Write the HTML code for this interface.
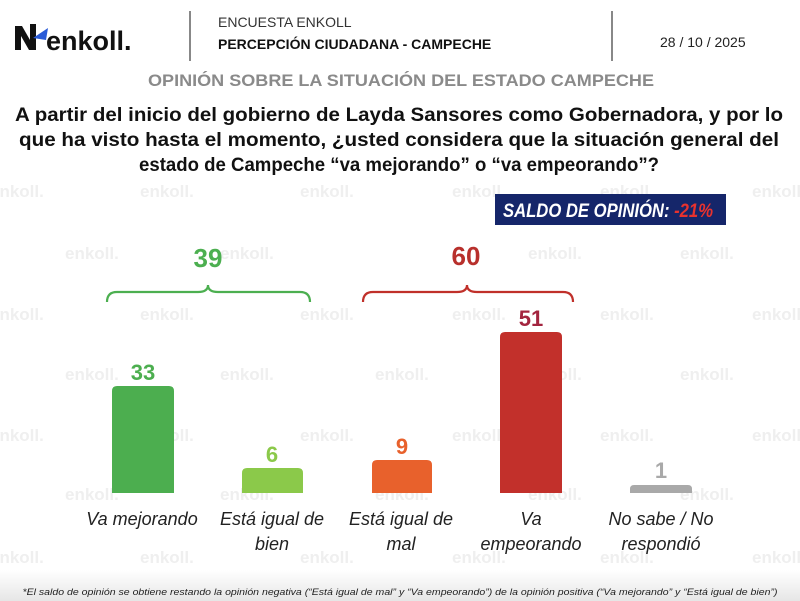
<!DOCTYPE html>
<html><head><meta charset="utf-8"><style>
html,body{margin:0;padding:0;background:#fff;}
svg{display:block;}
text{font-family:"Liberation Sans",sans-serif;}
</style></head><body>
<svg width="800" height="601" viewBox="0 0 800 601" xmlns="http://www.w3.org/2000/svg">
<defs>
<linearGradient id="fg" x1="0" y1="0" x2="0" y2="1"><stop offset="0" stop-color="#fff"/><stop offset="1" stop-color="#e6e6e6"/></linearGradient>
</defs>
<rect x="0" y="570" width="800" height="31" fill="url(#fg)"/>
<!-- watermarks -->
<g fill="#efefef" font-size="17" font-weight="bold">
<text x="-10" y="197">enkoll.</text><text x="140" y="197">enkoll.</text><text x="300" y="197">enkoll.</text><text x="452" y="197">enkoll.</text><text x="600" y="197">enkoll.</text><text x="752" y="197">enkoll.</text>
<text x="65" y="259">enkoll.</text><text x="220" y="259">enkoll.</text><text x="528" y="259">enkoll.</text><text x="680" y="259">enkoll.</text>
<text x="-10" y="320">enkoll.</text><text x="140" y="320">enkoll.</text><text x="300" y="320">enkoll.</text><text x="452" y="320">enkoll.</text><text x="600" y="320">enkoll.</text><text x="752" y="320">enkoll.</text>
<text x="65" y="380">enkoll.</text><text x="220" y="380">enkoll.</text><text x="375" y="380">enkoll.</text><text x="528" y="380">enkoll.</text><text x="680" y="380">enkoll.</text>
<text x="-10" y="441">enkoll.</text><text x="140" y="441">enkoll.</text><text x="300" y="441">enkoll.</text><text x="452" y="441">enkoll.</text><text x="600" y="441">enkoll.</text><text x="752" y="441">enkoll.</text>
<text x="65" y="500">enkoll.</text><text x="220" y="500">enkoll.</text><text x="375" y="500">enkoll.</text><text x="528" y="500">enkoll.</text><text x="680" y="500">enkoll.</text>
<text x="-10" y="563">enkoll.</text><text x="140" y="563">enkoll.</text><text x="300" y="563">enkoll.</text><text x="452" y="563">enkoll.</text><text x="600" y="563">enkoll.</text><text x="752" y="563">enkoll.</text>
</g>
<!-- header -->
<path d="M15 50 L15 26 L22 26 L30 40 L30 24 L36 24 L36 50 L29 50 L21 36 L21 50Z" fill="#111"/>
<path d="M33 38 L48 28 L46 40 Z" fill="#2a5bd7"/>
<text x="46" y="50" font-size="27" font-weight="bold" fill="#111">enkoll.</text>
<rect x="189" y="11" width="2" height="50" fill="#888"/>
<rect x="611" y="11" width="2" height="50" fill="#888"/>
<text x="218" y="27" font-size="14" fill="#333">ENCUESTA ENKOLL</text>
<text x="218" y="49" font-size="14" font-weight="bold" fill="#111">PERCEPCIÓN CIUDADANA - CAMPECHE</text>
<text x="660" y="47" font-size="14" fill="#222">28 / 10 / 2025</text>
<text x="401" y="86" text-anchor="middle" font-size="17" font-weight="bold" fill="#8a8a8a" textLength="506" lengthAdjust="spacingAndGlyphs">OPINIÓN SOBRE LA SITUACIÓN DEL ESTADO CAMPECHE</text>
<g font-size="19" font-weight="bold" fill="#111" text-anchor="middle">
<text x="399" y="121" textLength="768" lengthAdjust="spacingAndGlyphs">A partir del inicio del gobierno de Layda Sansores como Gobernadora, y por lo</text>
<text x="399" y="146" textLength="760" lengthAdjust="spacingAndGlyphs">que ha visto hasta el momento, ¿usted considera que la situación general del</text>
<text x="399" y="171" textLength="520" lengthAdjust="spacingAndGlyphs">estado de Campeche “va mejorando” o “va empeorando”?</text>
</g>
<rect x="495" y="194" width="231" height="31" fill="#15266a"/>
<text x="503" y="217" font-size="19" font-weight="bold" font-style="italic" fill="#fff" textLength="210" lengthAdjust="spacingAndGlyphs">SALDO DE OPINIÓN: <tspan fill="#e8322e">-21%</tspan></text>
<!-- braces -->
<path d="M107 302 Q107 292 117 292 L198 292 Q208 292 208 285 Q208 292 218 292 L300 292 Q310 292 310 302" fill="none" stroke="#4caf50" stroke-width="2.2"/>
<text x="208" y="267" text-anchor="middle" font-size="26" font-weight="bold" fill="#4caf50">39</text>
<path d="M363 302 Q363 292 373 292 L457 292 Q467 292 467 285 Q467 292 477 292 L563 292 Q573 292 573 302" fill="none" stroke="#c0302a" stroke-width="2.2"/>
<text x="466" y="265" text-anchor="middle" font-size="26" font-weight="bold" fill="#b8302c">60</text>
<!-- bars -->
<path d="M112 493 V391 Q112 386 117 386 H169 Q174 386 174 391 V493Z" fill="#4cae4f"/>
<path d="M242 493 V473 Q242 468 247 468 H298 Q303 468 303 473 V493Z" fill="#8bc94a"/>
<path d="M372 493 V465 Q372 460 377 460 H427 Q432 460 432 465 V493Z" fill="#e8612c"/>
<path d="M500 493 V337 Q500 332 505 332 H557 Q562 332 562 337 V493Z" fill="#c2302b"/>
<path d="M630 493 V489 Q630 485 634 485 H688 Q692 485 692 489 V493Z" fill="#a9a9a9"/>
<g font-size="22" font-weight="bold" text-anchor="middle">
<text x="143" y="380" fill="#4cae4f">33</text>
<text x="272" y="462" fill="#8bc94a">6</text>
<text x="402" y="454" fill="#e8612c">9</text>
<text x="531" y="326" fill="#a3253f">51</text>
<text x="661" y="478" fill="#a9a9a9">1</text>
</g>
<g font-size="18" font-style="italic" fill="#222" text-anchor="middle">
<text x="142" y="525">Va mejorando</text>
<text x="272" y="525">Está igual de</text><text x="272" y="550">bien</text>
<text x="401" y="525">Está igual de</text><text x="401" y="550">mal</text>
<text x="531" y="525">Va</text><text x="531" y="550">empeorando</text>
<text x="661" y="525">No sabe / No</text><text x="661" y="550">respondió</text>
</g>
<text x="400" y="595" text-anchor="middle" font-size="9.5" font-style="italic" fill="#222" textLength="755" lengthAdjust="spacingAndGlyphs">*El saldo de opinión se obtiene restando la opinión negativa (“Está igual de mal” y “Va empeorando”) de la opinión positiva (“Va mejorando” y “Está igual de bien”)</text>
</svg>
</body></html>
